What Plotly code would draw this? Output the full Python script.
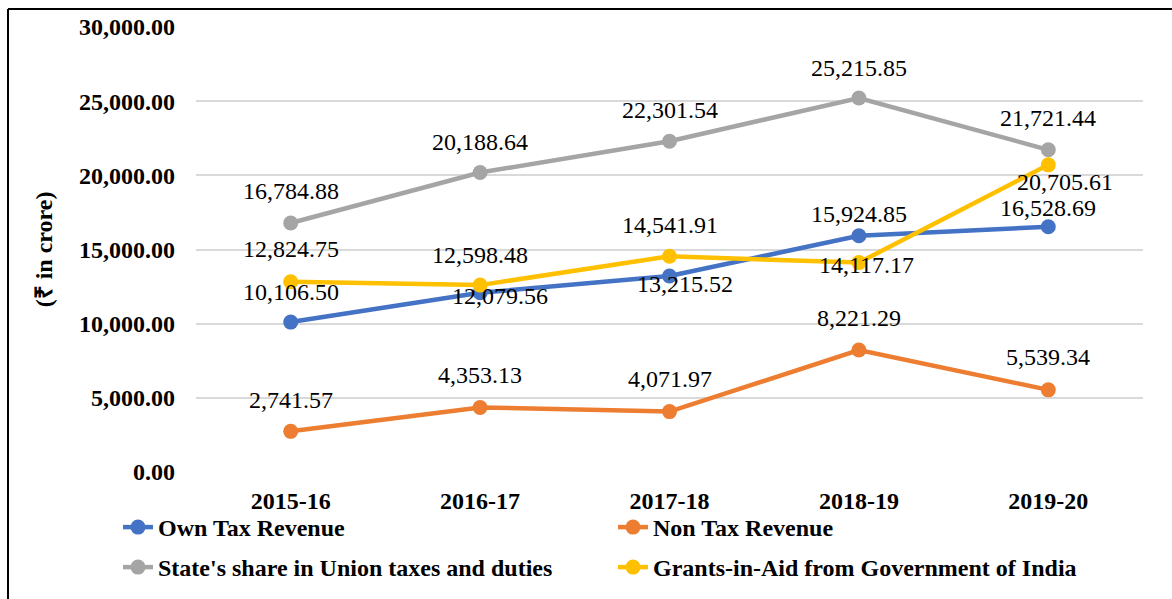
import plotly.graph_objects as go

years = ['2015-16', '2016-17', '2017-18', '2018-19', '2019-20']

own_tax = [10106.50, 12079.56, 13215.52, 15924.85, 16528.69]
non_tax = [2741.57, 4353.13, 4071.97, 8221.29, 5539.34]
union_share = [16784.88, 20188.64, 22301.54, 25215.85, 21721.44]
grants = [12824.75, 12598.48, 14541.91, 14117.17, 20705.61]

names = ['Own Tax Revenue', 'Non Tax Revenue',
         "State's share in Union taxes and duties",
         'Grants-in-Aid from Government of India']
colors = ['#4472C4', '#ED7D31', '#A5A5A5', '#FFC000']

# label offsets (px) as placed in the original chart
label_dy = [
    [30, -3, -8, 22, 19],
    [31, 32, 33, 32, 33],
    [32, 31, 31, 30, 32],
    [33, 30, 31, -2, -17],
]
label_dx = [
    [0, 20, 15, 0, 0],
    [0, 0, 0, 0, 0],
    [0, 0, 0, 0, 0],
    [0, 0, 0, 8, 17],
]

series = [own_tax, non_tax, union_share, grants]
legend_of = ['legend', 'legend', 'legend2', 'legend2']

W, H = 1172, 599
L, R, T, B = 196, 29, 27, 127
pw, ph = W - L - R, H - T - B

font = 'Liberation Serif, Times New Roman, serif'


def px_x(x):
    return (x - L) / pw


def px_y(y):
    return (T + ph - y) / ph


fig = go.Figure()
annotations = []
for i, vals in enumerate(series):
    fig.add_trace(go.Scatter(
        x=years, y=vals, name=names[i], mode='lines+markers',
        line=dict(color=colors[i], width=4.5),
        marker=dict(color=colors[i], size=15),
        legend=legend_of[i],
    ))
    for j, v in enumerate(vals):
        annotations.append(dict(
            x=years[j], y=v, text=f'{v:,.2f}', showarrow=False,
            xshift=label_dx[i][j], yshift=label_dy[i][j],
            font=dict(family=font, size=24, color='black'),
        ))

legend_style = dict(
    orientation='h', xanchor='left', yanchor='top',
    entrywidth=450, entrywidthmode='pixels',
    font=dict(family=font, size=24, color='black', weight='bold'),
    bgcolor='rgba(0,0,0,0)',
)

fig.update_layout(
    width=W, height=H,
    margin=dict(l=L, r=R, t=T, b=B, autoexpand=False),
    paper_bgcolor='white', plot_bgcolor='white',
    font=dict(family=font, size=24, color='black'),
    annotations=annotations,
    showlegend=True,
    legend=dict(x=px_x(118), y=px_y(505), **legend_style),
    legend2=dict(x=px_x(118), y=px_y(545), **legend_style),
    xaxis=dict(
        range=[-0.5, 4.5],
        showgrid=False, showline=False, zeroline=False,
        tickfont=dict(family=font, size=24, color='black', weight='bold'),
        ticklabelstandoff=12,
    ),
    yaxis=dict(
        range=[0, 30000], dtick=5000, tickformat=',.2f',
        showgrid=True, gridcolor='#D9D9D9', gridwidth=1.5,
        zeroline=False, showline=False,
        tickfont=dict(family=font, size=24, color='black', weight='bold'),
        ticklabelstandoff=20,
        title=dict(text='(₹ in crore)', standoff=19,
                   font=dict(family=font, size=24, color='black', weight='bold')),
    ),
    shapes=[
        dict(type='line', xref='paper', yref='paper',
             x0=px_x(8), x1=px_x(8), y0=px_y(H + 5), y1=px_y(9),
             line=dict(color='black', width=2)),
        dict(type='line', xref='paper', yref='paper',
             x0=px_x(8), x1=px_x(W + 5), y0=px_y(9), y1=px_y(9),
             line=dict(color='black', width=2)),
    ],
)

fig.write_html('out.html', config={'displayModeBar': False},
               post_script="document.body.style.margin='0';")
